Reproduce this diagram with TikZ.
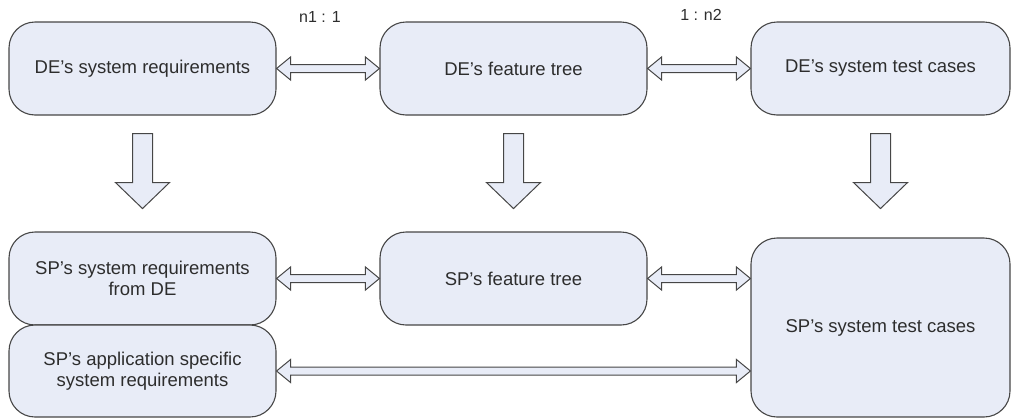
\documentclass[tikz,border=0pt]{standalone}
\usepackage{fontspec}
\setmainfont{Liberation Sans}
\usetikzlibrary{calc}

\definecolor{boxfill}{RGB}{232,236,247}
\definecolor{boxline}{RGB}{70,70,70}
\definecolor{txt}{RGB}{45,45,45}

\tikzset{
  stage/.style={draw=boxline, line width=1.1pt, fill=boxfill, rounded corners=26pt,
    text=txt, align=center, font=\fontsize{18.5}{21}\selectfont, inner sep=0pt},
  blockarrow/.style={draw=boxline, line width=1pt, fill=boxfill, line join=miter},
  ratio/.style={text=txt, font=\fontsize{16}{18}\selectfont, inner sep=0pt}
}

% horizontal two-headed block arrow, drawn at the height of the left node's east anchor
\newcommand\linkarrow[2]{%
  \path[blockarrow] let \p1=(#1.east), \p2=(#2.west) in
    (\x1,\y1) -- (\x1+14pt,\y1+11.5pt) -- (\x1+14pt,\y1+4pt)
    -- (\x2-14pt,\y1+4pt) -- (\x2-14pt,\y1+11.5pt) -- (\x2,\y1)
    -- (\x2-14pt,\y1-11.5pt) -- (\x2-14pt,\y1-4pt)
    -- (\x1+14pt,\y1-4pt) -- (\x1+14pt,\y1-11.5pt) -- cycle;}

% downward block arrow leaving the upper node towards the lower one
\newcommand\derivearrow[2]{%
  \path[blockarrow] let \p1=(#1.south), \p2=(#2.north) in
    (\x1-10pt,\y1-18pt) -- (\x1+10pt,\y1-18pt) -- (\x1+10pt,\y1-67pt)
    -- (\x1+27pt,\y1-67pt) -- (\x1,\y1-93pt) -- (\x1-27pt,\y1-67pt)
    -- (\x1-10pt,\y1-67pt) -- cycle;}

\begin{document}
\begin{tikzpicture}[x=1pt,y=-1pt]
\useasboundingbox (0,0) rectangle (1011,418);

% domain engineering row
\node[stage, minimum width=267pt, minimum height=93pt] (dereq) at (142.5,68.5) {DE’s system requirements};
\node[stage, minimum width=267pt, minimum height=93pt] (deft)  at (513.5,68.5) {DE’s feature tree};
\node[stage, minimum width=259pt, minimum height=93pt] (detc)  at (880.5,68.5) {DE’s system test cases};

% supplier row
\node[stage, minimum width=267pt, minimum height=93pt] (spreq) at (142.5,278.5) {SP’s system requirements\\from DE};
\node[stage, minimum width=267pt, minimum height=92pt] (spapp) at (142.5,371) {SP’s application specific\\system requirements};
\node[stage, minimum width=267pt, minimum height=93pt] (spft)  at (513.5,278.5) {SP’s feature tree};
\node[stage, minimum width=259pt, minimum height=179pt] (sptc) at (880.5,327.5) {SP’s system test cases};

% cardinalities
\node[ratio] (card1) at (320,17) {n1 : 1};
\node[ratio] (card2) at (701,15) {1 : n2};

% trace links
\linkarrow{dereq}{deft}
\linkarrow{deft}{detc}
\linkarrow{spreq}{spft}
\linkarrow{spft}{sptc}
\linkarrow{spapp}{sptc}

% derivation from DE to SP
\derivearrow{dereq}{spreq}
\derivearrow{deft}{spft}
\derivearrow{detc}{sptc}
\end{tikzpicture}
\end{document}
